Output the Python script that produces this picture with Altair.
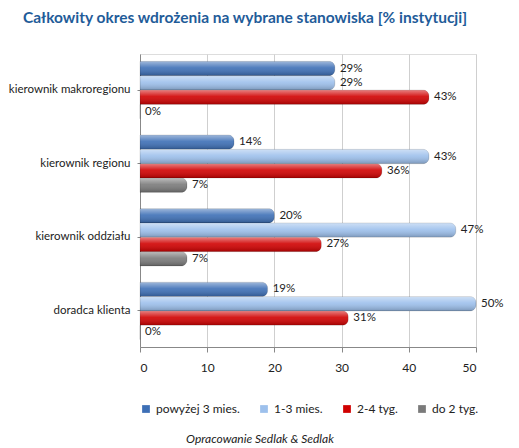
import pandas as pd
import altair as alt

# Chart data
stanowiska = ["kierownik makroregionu", "kierownik regionu", "kierownik oddziału", "doradca klienta"]
okresy = ["powyżej 3 mies.", "1-3 mies.", "2-4 tyg.", "do 2 tyg."]
kolory = ["#3D6FB6", "#9DC0EC", "#D00000", "#7A7A7A"]

powyzej_3_mies = [29, 14, 20, 19]
od_1_do_3_mies = [29, 43, 47, 50]
od_2_do_4_tyg = [43, 36, 27, 31]
do_2_tyg = [0, 7, 7, 0]

rows = []
for okres, values in zip(okresy, [powyzej_3_mies, od_1_do_3_mies, od_2_do_4_tyg, do_2_tyg]):
    for stanowisko, v in zip(stanowiska, values):
        rows.append({"Stanowisko": stanowisko, "Okres": okres, "Procent": v, "Etykieta": f"{v}%"})
df = pd.DataFrame(rows)

FONT = "Lato"

base = alt.Chart(df).encode(
    y=alt.Y("Stanowisko:N", sort=stanowiska, title=None,
            scale=alt.Scale(paddingInner=0.22, paddingOuter=0.1),
            axis=alt.Axis(labelFontSize=11.5, labelFont=FONT, labelColor="#222",
                          labelPadding=7, ticks=True, tickSize=3, tickColor="#888",
                          domainColor="#888", labelLimit=200)),
    yOffset=alt.YOffset("Okres:N", sort=okresy),
)

bars = base.mark_bar(cornerRadiusEnd=6, stroke="#00000030", strokeWidth=0.6).encode(
    x=alt.X("Procent:Q", title=None, scale=alt.Scale(domain=[0, 50], nice=False),
            axis=alt.Axis(values=[0, 10, 20, 30, 40, 50], labelFontSize=12, labelFont=FONT,
                          labelColor="#222", grid=True, gridColor="#cfcfcf", domainColor="#888",
                          tickColor="#888", tickSize=5, labelPadding=10)),
    color=alt.Color("Okres:N", sort=okresy, title=None,
                    scale=alt.Scale(domain=okresy, range=kolory),
                    legend=alt.Legend(orient="bottom", direction="horizontal", symbolType="square",
                                      symbolSize=60, symbolStrokeWidth=0, labelFont=FONT,
                                      labelFontSize=12, labelColor="#222", columnPadding=18,
                                      offset=30)),
)

# glossy highlight on each bar
gloss = base.mark_bar(
    cornerRadiusEnd=6,
    color=alt.Gradient(
        gradient="linear", x1=0, x2=0, y1=0, y2=1,
        stops=[alt.GradientStop(color="rgba(255,255,255,0.5)", offset=0),
               alt.GradientStop(color="rgba(255,255,255,0.1)", offset=0.45),
               alt.GradientStop(color="rgba(0,0,0,0.22)", offset=1)],
    ),
).encode(x="Procent:Q")

labels = base.mark_text(align="left", dx=5, fontSize=11.5, font=FONT, color="#222").encode(
    x="Procent:Q", text="Etykieta:N"
)

caption = alt.Chart(pd.DataFrame({"t": ["Opracowanie Sedlak & Sedlak"]})).mark_text(
    font=FONT, fontSize=12, fontStyle="italic", color="#222", align="center"
).encode(x=alt.value(120), y=alt.value(385), text="t:N")

chart = alt.layer(bars, gloss, labels, caption).properties(
    width=336,
    height=293,
    title=alt.Title("Całkowity okres wdrożenia na wybrane stanowiska [% instytucji]",
                    font=FONT, fontSize=15.5, fontWeight="bold", color="#1F5C99",
                    anchor="middle", offset=28, dx=-63),
    padding={"left": 0, "top": 2, "right": 0, "bottom": 0},
).configure_view(strokeWidth=0).configure(background="white")

chart.save("out.html", embed_options={"renderer": "svg", "actions": False})
